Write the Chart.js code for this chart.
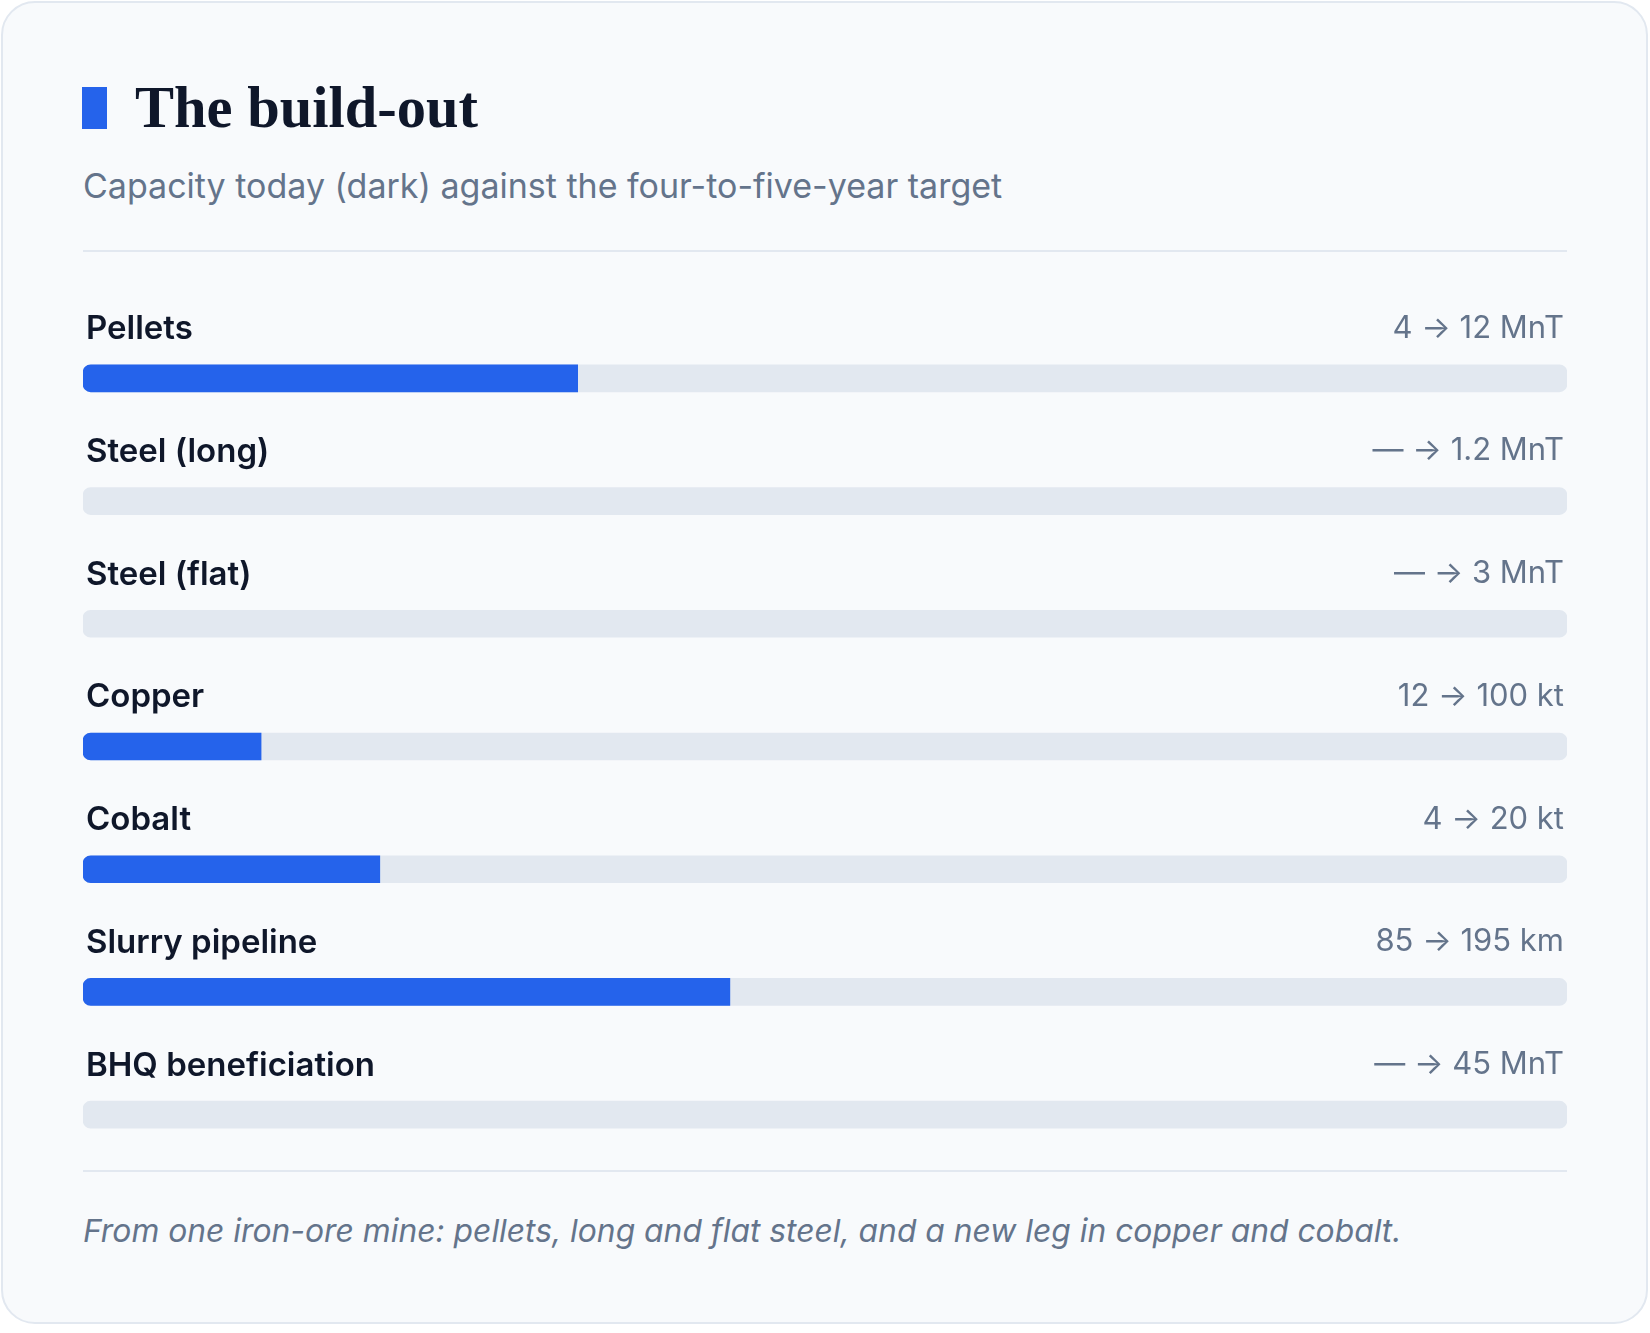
<!DOCTYPE html>
<html><head><meta charset="utf-8">
<script src="https://cdn.jsdelivr.net/npm/chart.js@4.4.0/dist/chart.umd.min.js"></script>
<style>
html,body{margin:0;padding:0;background:#ffffff;width:1650px;height:1333px;overflow:hidden;font-family:Inter,"Noto Sans",sans-serif;}
#card{position:absolute;left:1px;top:1px;width:1643px;height:1319px;border:2px solid #e2e8f0;border-radius:34px;background:#f8fafc;}
#accent{position:absolute;left:82px;top:87px;width:25px;height:42px;background:#2563eb;}
#title{position:absolute;left:135px;top:70px;font-family:"Liberation Serif",serif;font-weight:bold;font-size:58.5px;line-height:76px;color:#0f172a;white-space:nowrap;}
#subtitle{position:absolute;left:83px;top:166px;font-size:34px;line-height:40px;color:#64748b;white-space:nowrap;}
.rule{position:absolute;left:83px;width:1484px;height:2px;background:#e2e8f0;}
#footer{position:absolute;left:83px;top:1211px;font-size:31.8px;line-height:40px;font-style:italic;color:#64748b;white-space:nowrap;}
#wrap{position:absolute;left:83px;top:267px;width:1484px;height:909px;}
</style></head>
<body>
<div id="card"></div>
<div id="accent"></div>
<div id="title">The build-out</div>
<div id="subtitle">Capacity today (dark) against the four-to-five-year target</div>
<div class="rule" style="top:250px"></div>
<div id="wrap"><canvas id="c"></canvas></div>
<div class="rule" style="top:1170px"></div>
<div id="footer">From one iron-ore mine: pellets, long and flat steel, and a new leg in copper and cobalt.</div>
<script>
const categories = ['Pellets','Steel (long)','Steel (flat)','Copper','Cobalt','Slurry pipeline','BHQ beneficiation'];
const currentValues = [4, null, null, 12, 4, 85, null];
const targetValues = [12, 1.2, 3, 100, 20, 195, 45];
const units = ['MnT','MnT','MnT','kt','kt','km','MnT'];

const fillShare = currentValues.map((v,i) => v == null ? null : v / targetValues[i]);
const trackShare = targetValues.map(() => 1);
const valueLabels = currentValues.map((v,i) => (v == null ? '\u2014' : v) + ' \u2192 ' + targetValues[i] + ' ' + units[i]);

const rowText = {
  id: 'rowText',
  afterDatasetsDraw(chart) {
    const ctx = chart.ctx, ys = chart.scales.y, a = chart.chartArea;
    ctx.save();
    ctx.textBaseline = 'middle';
    categories.forEach((c,i) => {
      const y = ys.getPixelForValue(i) - 49;
      ctx.font = '600 33px Inter, "Noto Sans", sans-serif';
      ctx.fillStyle = '#0f172a';
      ctx.textAlign = 'left';
      ctx.fillText(c, a.left + 3, y);
      ctx.font = '400 31px Inter, "Noto Sans", sans-serif';
      ctx.fillStyle = '#64748b';
      ctx.textAlign = 'right';
      ctx.fillText(valueLabels[i], a.right - 3, y - 1);
    });
    ctx.restore();
  }
};

new Chart(document.getElementById('c'), {
  type: 'bar',
  data: {
    labels: categories,
    datasets: [
      { label: 'Today', data: fillShare, backgroundColor: '#2563eb', barThickness: 27, grouped: false, order: 0,
        borderSkipped: false, borderRadius: {topLeft: 8, bottomLeft: 8, topRight: 0, bottomRight: 0} },
      { label: 'Target', data: trackShare, backgroundColor: '#e2e8f0', barThickness: 27, grouped: false, order: 1,
        borderSkipped: false, borderRadius: 8 }
    ]
  },
  options: {
    indexAxis: 'y',
    responsive: true,
    maintainAspectRatio: false,
    animation: false,
    devicePixelRatio: 1,
    layout: { padding: { top: 50, bottom: 0, left: 0, right: 0 } },
    plugins: { legend: { display: false }, tooltip: { enabled: false } },
    scales: {
      x: { display: false, min: 0, max: 1 },
      y: { display: false }
    }
  },
  plugins: [rowText]
});
</script>
</body></html>
